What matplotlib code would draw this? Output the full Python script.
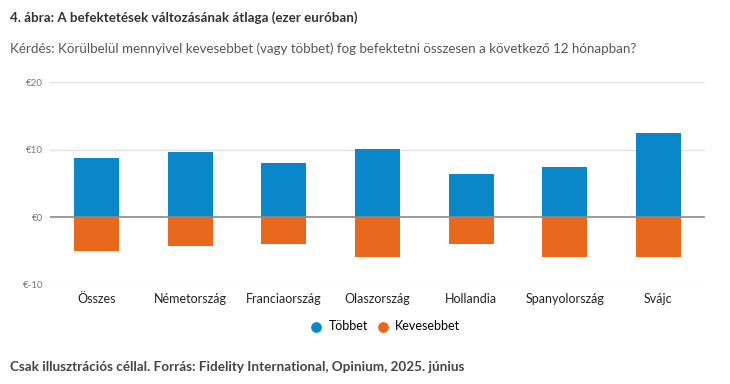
import numpy as np
import matplotlib.pyplot as plt

# Data (thousand EUR)
categories = ['Összes', 'Németország', 'Franciaország', 'Olaszország',
              'Hollandia', 'Spanyolország', 'Svájc']
tobbet = [8.7, 9.6, 8.1, 10.1, 6.4, 7.4, 12.4]
kevesebbet = [-5.0, -4.2, -4.0, -5.9, -3.9, -5.8, -5.9]
yticks = [-10, 0, 10, 20]
ytick_labels = ['€-10', '€0', '€10', '€20']

BLUE = '#0a87c8'
ORANGE = '#e8691e'

plt.rcParams['font.family'] = ['Lato', 'DejaVu Sans']

fig = plt.figure(figsize=(7.3, 3.84), dpi=100)
ax = fig.add_axes([50 / 730, 1 - 285 / 384, 655 / 730, 203 / 384])

x = np.arange(len(categories))
ax.bar(x, tobbet, width=0.48, color=BLUE, zorder=2)
ax.bar(x, kevesebbet, width=0.48, color=ORANGE, zorder=2)

ax.set_xlim(-0.5, len(categories) - 0.5)
ax.set_ylim(-10, 20)
ax.set_yticks(yticks)
ax.set_yticklabels(ytick_labels, fontsize=7, color='#777777')
ax.set_xticks(x)
ax.set_xticklabels(categories, fontsize=9, color='#222222')
ax.tick_params(axis='both', length=0)
ax.tick_params(axis='y', pad=5)
ax.tick_params(axis='x', pad=6)

for y in yticks:
    if y != 0:
        ax.axhline(y, color='#e2e2e2', lw=1, zorder=1)
ax.axhline(0, color='#8a8a8a', lw=1.2, zorder=3)

for s in ax.spines.values():
    s.set_visible(False)

# legend
ax.scatter([], [], color=BLUE, s=45, label='Többet')
ax.scatter([], [], color=ORANGE, s=45, label='Kevesebbet')
fig.legend(loc='center', bbox_to_anchor=(382 / 730, 1 - 326 / 384), ncol=2,
           frameon=False, fontsize=9, handletextpad=0.0, columnspacing=0.2,
           scatterpoints=1)

fig.text(10 / 730, 1 - 18 / 384,
         '4. ábra: A befektetések változásának átlaga (ezer euróban)',
         fontsize=9.6, fontweight='bold', color='#333333', va='center')
fig.text(10 / 730, 1 - 49 / 384,
         'Kérdés: Körülbelül mennyivel kevesebbet (vagy többet) fog befektetni '
         'összesen a következő 12 hónapban?',
         fontsize=9.6, color='#555555', va='center')
fig.text(10 / 730, 1 - 367 / 384,
         'Csak illusztrációs céllal. Forrás: Fidelity International, Opinium, 2025. június',
         fontsize=9.7, fontweight='bold', color='#444444', va='center')

fig.savefig('out.png', dpi=100, facecolor='white')
